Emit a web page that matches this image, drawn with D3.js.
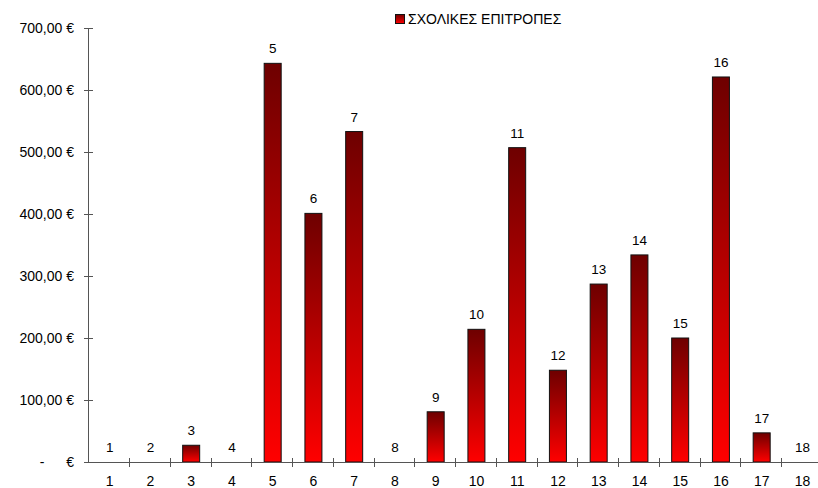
<!DOCTYPE html>
<html>
<head>
<meta charset="utf-8">
<script src="https://cdn.jsdelivr.net/npm/d3@7"></script>
<style>
  body { margin: 0; background: #fff; }
  text { font-family: "Liberation Sans", Arial, sans-serif; fill: #000; }
</style>
</head>
<body>
<script>
// data
var categories = ["1","2","3","4","5","6","7","8","9","10","11","12","13","14","15","16","17","18"];
var values = [0, 0, 27, 0, 643, 401, 533, 0, 81, 214, 507, 148, 287, 334, 200, 621, 47, 0];
var yTicks = [0, 100, 200, 300, 400, 500, 600, 700];
var seriesName = "ΣΧΟΛΙΚΕΣ ΕΠΙΤΡΟΠΕΣ";

var W = 818, H = 488;
var svg = d3.select("body").append("svg").attr("width", W).attr("height", H);

var defs = svg.append("defs");
var grad = defs.append("linearGradient").attr("id", "barGrad")
    .attr("x1", 0).attr("y1", 0).attr("x2", 0).attr("y2", 1);
grad.append("stop").attr("offset", "0%").attr("stop-color", "#6e0000");
grad.append("stop").attr("offset", "100%").attr("stop-color", "#ff0000");

var x = d3.scaleBand().domain(categories).range([88.3, 821.8]).paddingInner(0).paddingOuter(0);
var y = d3.scaleLinear().domain([0, 700]).range([462, 28]);

var axisColor = "#555";

// bars
var bw = 17;
svg.selectAll("rect.bar")
    .data(values)
    .enter().append("rect")
        .attr("class", "bar")
        .attr("x", function (d, i) { return x(categories[i]) + x.bandwidth() / 2 - bw / 2 + 1; })
        .attr("y", function (d) { return y(d); })
        .attr("width", bw)
        .attr("height", function (d) { return y(0) - y(d); })
        .attr("fill", "url(#barGrad)")
        .attr("stroke", "#111")
        .attr("stroke-width", 1);

// bar labels
svg.selectAll("text.lbl")
    .data(values)
    .enter().append("text")
        .attr("class", "lbl")
        .attr("x", function (d, i) { return x(categories[i]) + x.bandwidth() / 2 + 1; })
        .attr("y", function (d) { return y(d) - 10; })
        .attr("text-anchor", "middle")
        .attr("font-size", "13.5px")
        .text(function (d, i) { return categories[i]; });

// y axis
svg.append("line")
    .attr("x1", 88.5).attr("x2", 88.5)
    .attr("y1", y(700)).attr("y2", y(0))
    .attr("stroke", axisColor);
svg.selectAll("line.ytick")
    .data(yTicks)
    .enter().append("line")
        .attr("class", "ytick")
        .attr("x1", 84).attr("x2", 93)
        .attr("y1", function (d) { return Math.round(y(d)) + 0.5; })
        .attr("y2", function (d) { return Math.round(y(d)) + 0.5; })
        .attr("stroke", axisColor);
svg.selectAll("text.ylbl")
    .data(yTicks)
    .enter().append("text")
        .attr("class", "ylbl")
        .attr("x", 74)
        .attr("y", function (d) { return y(d) + 5; })
        .attr("text-anchor", "end")
        .attr("font-size", "14px")
        .text(function (d) { return d === 0 ? "€" : d3.format(".2f")(d).replace(".", ",") + " €"; });
svg.append("text")
    .attr("x", 42).attr("y", y(0) + 5)
    .attr("text-anchor", "middle")
    .attr("font-size", "14px")
    .text("-");

// x axis
svg.append("line")
    .attr("x1", 88.5).attr("x2", W)
    .attr("y1", 462.5).attr("y2", 462.5)
    .attr("stroke", axisColor);
svg.selectAll("line.xtick")
    .data(categories)
    .enter().append("line")
        .attr("class", "xtick")
        .attr("x1", function (d) { return Math.round(x(d) + x.bandwidth()) + 0.5; })
        .attr("x2", function (d) { return Math.round(x(d) + x.bandwidth()) + 0.5; })
        .attr("y1", 458).attr("y2", 467)
        .attr("stroke", axisColor);
svg.selectAll("text.xlbl")
    .data(categories)
    .enter().append("text")
        .attr("class", "xlbl")
        .attr("x", function (d) { return x(d) + x.bandwidth() / 2 + 1; })
        .attr("y", 486)
        .attr("text-anchor", "middle")
        .attr("font-size", "14px")
        .text(function (d) { return d; });

// legend
svg.append("rect")
    .attr("x", 395.5).attr("y", 14.5).attr("width", 9).attr("height", 9)
    .attr("fill", "url(#barGrad)").attr("stroke", "#111");
svg.append("text")
    .attr("x", 408).attr("y", 24)
    .attr("font-size", "14px")
    .text(seriesName);
</script>
</body>
</html>
